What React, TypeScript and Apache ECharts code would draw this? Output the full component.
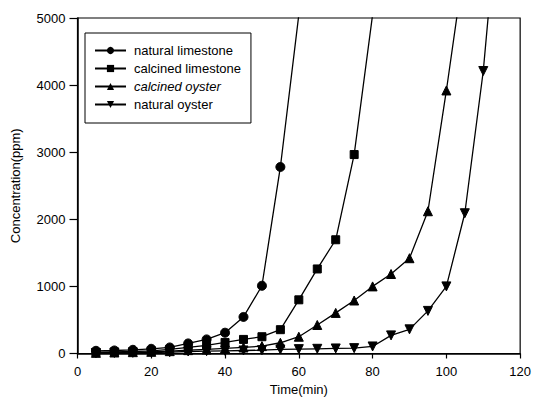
import React, { useEffect, useRef } from "react";
import * as echarts from "echarts";

const seriesNames = ["natural limestone", "calcined limestone", "calcined oyster", "natural oyster"];

const naturalLimestone: [number, number][] = [
  [5, 40], [10, 45], [15, 55], [20, 70], [25, 90], [30, 150], [35, 210], [40, 310],
  [45, 545], [50, 1010], [55, 2780], [60, 5050],
];
const calcinedLimestone: [number, number][] = [
  [5, 20], [10, 25], [15, 30], [20, 40], [25, 60], [30, 90], [35, 120], [40, 165],
  [45, 210], [50, 250], [55, 355], [60, 800], [65, 1260], [70, 1695], [75, 2965], [80, 5050],
];
const calcinedOyster: [number, number][] = [
  [5, 10], [10, 15], [15, 20], [20, 25], [25, 35], [30, 50], [35, 60], [40, 75],
  [45, 90], [50, 110], [55, 160], [60, 250], [65, 425], [70, 605], [75, 790], [80, 1000],
  [85, 1185], [90, 1420], [95, 2120], [100, 3920], [105, 5850],
];
const naturalOyster: [number, number][] = [
  [5, 5], [10, 8], [15, 10], [20, 15], [25, 20], [30, 30], [35, 35], [40, 40],
  [45, 45], [50, 50], [55, 60], [60, 65], [65, 70], [70, 75], [75, 80], [80, 105],
  [85, 270], [90, 360], [95, 635], [100, 1000], [105, 2090], [110, 4210], [115, 7250],
];

const xTicks = { min: 0, max: 120, interval: 20 };
const yTicks = { min: 0, max: 5000, interval: 1000 };

const FONT = "Liberation Sans, Arial, sans-serif";

export default function App() {
  const ref = useRef<HTMLDivElement>(null);
  useEffect(() => {
    if (!ref.current) return;
    const chart = echarts.init(ref.current, undefined, { renderer: "svg" });
    const mk = (name: string, data: [number, number][], symbol: string, size: number, rotate = 0) => ({
      name,
      type: "line",
      data,
      symbol,
      symbolSize: size,
      symbolRotate: rotate,
      clip: true,
      lineStyle: { color: "#000", width: 1.3 },
      itemStyle: { color: "#000", borderColor: "#000" },
    });
    chart.setOption({
      animation: false,
      backgroundColor: "#fff",
      grid: {
        left: 77.5, right: 11, top: 18, bottom: 49.5,
        show: true, borderColor: "#000", borderWidth: 1.2, backgroundColor: "transparent",
      },
      legend: {
        orient: "vertical",
        left: 85,
        top: 33,
        padding: [11, 10, 12, 9],
        itemGap: 5,
        itemWidth: 31,
        itemHeight: 9,
        borderColor: "#000",
        borderWidth: 1,
        backgroundColor: "#fff",
        symbolRotate: "inherit",
        textStyle: { fontFamily: FONT, fontSize: 13, color: "#000", padding: [0, 0, 0, 3] },
        data: [
          { name: seriesNames[0] },
          { name: seriesNames[1] },
          { name: seriesNames[2], textStyle: { fontStyle: "italic" } },
          { name: seriesNames[3] },
        ],
      },
      xAxis: {
        type: "value",
        min: xTicks.min,
        max: xTicks.max,
        interval: xTicks.interval,
        name: "Time(min)",
        nameLocation: "middle",
        nameGap: 29,
        nameTextStyle: { fontFamily: FONT, fontSize: 13, color: "#000" },
        axisLine: { show: true, onZero: false, lineStyle: { color: "#000", width: 1.5 } },
        axisTick: { show: true, inside: false, length: 5, lineStyle: { color: "#000", width: 1.2 } },
        axisLabel: { fontFamily: FONT, fontSize: 13, color: "#000", margin: 11 },
        splitLine: { show: false },
      },
      yAxis: {
        type: "value",
        min: yTicks.min,
        max: yTicks.max,
        interval: yTicks.interval,
        name: "Concentration(ppm)",
        nameLocation: "middle",
        nameGap: 56,
        nameTextStyle: { fontFamily: FONT, fontSize: 13, color: "#000" },
        axisLine: { show: true, lineStyle: { color: "#000", width: 1.5 } },
        axisTick: { show: true, inside: false, length: 8, lineStyle: { color: "#000", width: 1.2 } },
        axisLabel: {
          fontFamily: FONT, fontSize: 13, color: "#000", margin: 12,
          formatter: (v: number) => String(v),
        },
        splitLine: { show: false },
      },
      series: [
        mk(seriesNames[0], naturalLimestone, "circle", 9),
        mk(seriesNames[1], calcinedLimestone, "rect", 8),
        mk(seriesNames[2], calcinedOyster, "triangle", 9),
        mk(seriesNames[3], naturalOyster, "triangle", 9, 180),
      ],
    });
    return () => chart.dispose();
  }, []);
  return (
    <div
      ref={ref}
      style={{ position: "absolute", left: 0, top: 0, width: 534, height: 403, background: "#fff" }}
    />
  );
}
